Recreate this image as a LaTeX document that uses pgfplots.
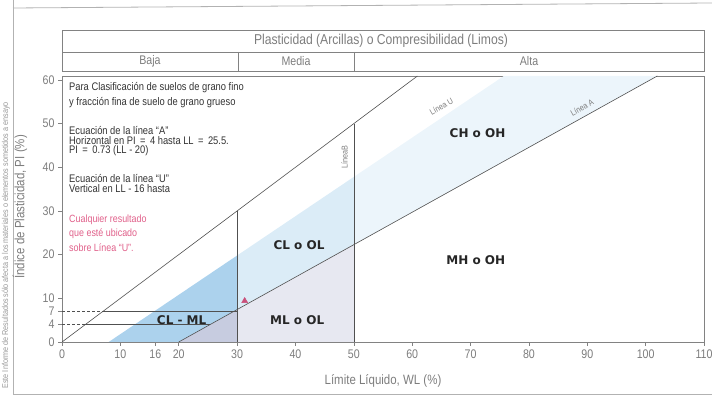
\documentclass[border=0pt]{standalone}
\usepackage{pgfplots}
\pgfplotsset{compat=1.18}
\usepackage{fontspec}
\setmainfont{Liberation Sans}[FakeStretch=0.85]
\newfontfamily\heavy{DejaVu Sans}
\definecolor{cMed}{RGB}{172,210,237}
\definecolor{cLight}{RGB}{219,236,247}
\definecolor{cVLight}{RGB}{236,245,251}
\definecolor{cLav}{RGB}{199,204,224}
\definecolor{cLavL}{RGB}{231,232,241}
\definecolor{cLine}{RGB}{80,80,80}
\definecolor{cAxis}{RGB}{130,130,130}
\definecolor{cTxt}{RGB}{125,125,125}
\definecolor{cPink}{RGB}{224,96,138}
\definecolor{cTri}{RGB}{201,80,122}
\begin{document}
\begin{tikzpicture}[x=1pt,y=1pt]
\useasboundingbox (0,0) rectangle (712,396);
% scan frame
\draw[gray!60, line width=0.8pt] (13,388) -- (712,393);
\draw[gray!60, line width=0.8pt] (13,396) -- (13,2) -- (712,2);
\node[rotate=90, anchor=west, font=\fontsize{8.5}{8.5}\selectfont, text=gray!80] at (6,4) {Este Informe de Resultados sólo afecta a los materiales o elementos sometidos a ensayo};
% header boxes
\draw[cAxis, line width=0.6pt] (62,366) rectangle (704,325);
\draw[cAxis, line width=0.6pt] (62,344) -- (704,344);
\draw[cAxis, line width=0.6pt] (238,344) -- (238,325);
\draw[cAxis, line width=0.6pt] (354,344) -- (354,325);
\node[font=\fontsize{14.3}{14.3}\selectfont, text=cTxt] at (381,355) {Plasticidad (Arcillas) o Compresibilidad (Limos)};
\node[font=\fontsize{12.5}{12.5}\selectfont, text=cTxt] at (150,334.5) {Baja};
\node[font=\fontsize{12.5}{12.5}\selectfont, text=cTxt] at (296,334.5) {Media};
\node[font=\fontsize{12.5}{12.5}\selectfont, text=cTxt] at (529,334.5) {Alta};
\begin{axis}[
  at={(62pt,54pt)}, anchor=south west,
  scale only axis, width=642pt, height=266pt,
  xmin=0, xmax=110, ymin=0, ymax=60.9,
  xtick={0,10,16,20,30,40,50,60,70,80,90,100,110},
  ytick={0,4,7,10,20,30,40,50,60},
  axis line style={cAxis, line width=0.6pt},
  tick style={cAxis, line width=0.6pt},
  tick align=outside, major tick length=4pt,
  xtick pos=bottom, ytick pos=left,
  ticklabel style={font=\fontsize{12.5}{12.5}\selectfont, text=cTxt},
  /pgf/number format/assume math mode=true,
  xlabel={Límite Líquido, WL (\%)},
  ylabel={Índice de Plasticidad, PI (\%)},
  label style={font=\fontsize{13.5}{13.5}\selectfont, text=cTxt},
  xlabel style={at={(axis description cs:0.5,-0.147)}, anchor=center},
  ylabel style={at={(axis description cs:-0.0654,0.508)}, anchor=center},
  clip=true,
]
% fills
\addplot[fill=cVLight, draw=none] coordinates {(50,22.3) (102,60.9) (75.7,60.9) (50,37.8)} -- cycle;
\addplot[fill=cLight, draw=none] coordinates {(30,7.4) (50,22.3) (50,37.8) (30,19.8)} -- cycle;
\addplot[fill=cMed, draw=none] coordinates {(8,0) (20,0) (30,7.4) (30,19.8)} -- cycle;
\addplot[fill=cLav, draw=none] coordinates {(20,0) (30,0) (30,7.4)} -- cycle;
\addplot[fill=cLavL, draw=none] coordinates {(30,0) (50,0) (50,22.3) (30,7.4)} -- cycle;
% lines
\addplot[cLine, line width=0.6pt] coordinates {(0,0) (60.9,60.9)};
\addplot[cLine, line width=0.6pt] coordinates {(20,0) (102,60.9)};
\addplot[cLine, line width=0.6pt] coordinates {(30,0) (30,30)};
\addplot[cLine, line width=0.6pt] coordinates {(50,0) (50,50)};
\addplot[cLine, line width=0.6pt] coordinates {(4,4) (25.4,4)};
\addplot[cLine, line width=0.5pt, densely dashed] coordinates {(0,4) (4,4)};
\addplot[cLine, line width=0.6pt] coordinates {(7,7) (30,7)};
\addplot[cLine, line width=0.5pt, densely dashed] coordinates {(0,7) (7,7)};
% point
\addplot[only marks, mark=triangle*, mark size=3.5pt, color=cTri] coordinates {(31.3,9.4)};
% zone labels
\node[font=\heavy\bfseries\fontsize{12}{12}\selectfont, text=black!85] at (axis cs:40.6,22.2) {CL o OL};
\node[font=\heavy\bfseries\fontsize{12}{12}\selectfont, text=black!85] at (axis cs:40.3,5.0) {ML o OL};
\node[font=\heavy\bfseries\fontsize{12}{12}\selectfont, text=black!85] at (axis cs:20.5,5.0) {CL - ML};
\node[font=\heavy\bfseries\fontsize{12}{12}\selectfont, text=black!85] at (axis cs:71.2,47.8) {CH o OH};
\node[font=\heavy\bfseries\fontsize{12}{12}\selectfont, text=black!85] at (axis cs:70.9,18.8) {MH o OH};
% line labels
\node[rotate=30, inner sep=0pt, font=\fontsize{8.5}{8.5}\selectfont, text=cTxt] at (axis cs:65.0,54.0) {Línea U};
\node[rotate=29, inner sep=0pt, font=\fontsize{8.5}{8.5}\selectfont, text=cTxt] at (axis cs:89.1,53.7) {Línea A};
\node[rotate=90, inner sep=0pt, font=\fontsize{8.5}{8.5}\selectfont, text=cTxt] at (axis cs:48.4,42.3) {LíneaB};
\end{axis}
% notes
\begin{scope}[every node/.style={anchor=west, inner sep=0pt, font=\fontsize{11}{11}\selectfont, text=black!80}]
\node at (69,308) {Para Clasificación de suelos de grano fino};
\node at (69,293) {y fracción fina de suelo de grano grueso};
\node at (69,265) {Ecuación de la línea “A”};
\node at (69,255) {Horizontal en PI \,=\, 4 hasta LL \,=\, 25.5.};
\node at (69,245) {PI \,=\, 0.73 (LL - 20)};
\node at (69,217) {Ecuación de la línea “U”};
\node at (69,207) {Vertical en LL - 16 hasta};
\node[text=cPink, font=\fontsize{10.5}{10.5}\selectfont] at (69,176) {Cualquier resultado};
\node[text=cPink, font=\fontsize{10.5}{10.5}\selectfont] at (69,162) {que esté ubicado};
\node[text=cPink, font=\fontsize{10.5}{10.5}\selectfont] at (69,148) {sobre Línea “U”.};
\end{scope}
\end{tikzpicture}
\end{document}
